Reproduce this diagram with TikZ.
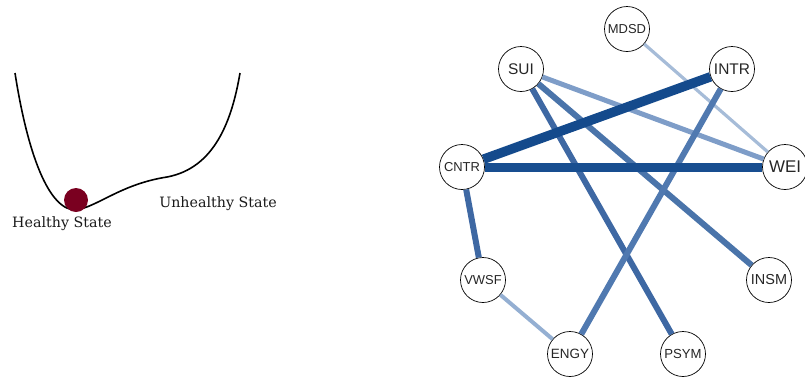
\documentclass[tikz,border=0pt]{standalone}
\usepackage{fontspec}
\newfontfamily\labelfont{Liberation Sans}
\newfontfamily\statefont{DejaVu Serif}
\definecolor{ball}{RGB}{122,0,32}
\definecolor{wA}{RGB}{20,74,140}
\definecolor{wB}{RGB}{24,78,144}
\definecolor{wC}{RGB}{62,104,163}
\definecolor{wD}{RGB}{74,116,170}
\definecolor{wE}{RGB}{80,121,176}
\definecolor{wF}{RGB}{126,157,200}
\definecolor{wG}{RGB}{148,175,210}
\definecolor{wH}{RGB}{166,188,216}
\begin{document}
\begin{tikzpicture}[x=1bp,y=-1bp,
  var/.style={circle,draw=black,line width=0.7bp,fill=white,minimum size=45bp,inner sep=0pt,text=black!85,font=\labelfont},
  edge/.style={line cap=butt},
  statelabel/.style={font=\statefont\fontsize{14.3}{17}\selectfont,text=black!90}]
\useasboundingbox (0,0) rectangle (805,376);

% ---- potential landscape ----
\draw[line width=1.6bp,line join=round]
  (15,73) .. controls (27,150) and (48,212) .. (77,210)
          .. controls (100,205) and (122,184) .. (167,177)
          .. controls (215,168) and (232,120) .. (240,73);
\fill[ball] (76,200) circle (12);
\node[statelabel] (healthy) at (62,224) {Healthy State};
\node[statelabel] (unhealthy) at (218,204) {Unhealthy State};

% ---- network ----
\node[var,font=\labelfont\fontsize{13}{14}\selectfont] (MDSD) at (627,29) {MDSD};
\node[var,font=\labelfont\fontsize{15.5}{16}\selectfont] (SUI) at (521,69) {SUI};
\node[var,font=\labelfont\fontsize{15.5}{16}\selectfont] (INTR) at (732,69) {INTR};
\node[var,font=\labelfont\fontsize{13}{14}\selectfont] (CNTR) at (462,167) {CNTR};
\node[var,font=\labelfont\fontsize{17}{18}\selectfont] (WEI) at (785,167) {WEI};
\node[var,font=\labelfont\fontsize{13}{14}\selectfont] (VWSF) at (483,280) {VWSF};
\node[var,font=\labelfont\fontsize{14.5}{15}\selectfont] (INSM) at (769,280) {INSM};
\node[var,font=\labelfont\fontsize{13.5}{14}\selectfont] (ENGY) at (570,354) {ENGY};
\node[var,font=\labelfont\fontsize{13.2}{14}\selectfont] (PSYM) at (683,354) {PSYM};

% edges: width and shade follow the strength of each link
\draw[edge,wH,line width=3.2bp] (MDSD) -- (WEI);
\draw[edge,wF,line width=5bp] (SUI) -- (WEI);
\draw[edge,wD,line width=6bp] (SUI) -- (INSM);
\draw[edge,wC,line width=6bp] (SUI) -- (PSYM);
\draw[edge,wE,line width=6bp] (INTR) -- (ENGY);
\draw[edge,wA,line width=9.5bp] (INTR) -- (CNTR);
\draw[edge,wB,line width=9bp] (CNTR) -- (WEI);
\draw[edge,wC,line width=6bp] (CNTR) -- (VWSF);
\draw[edge,wG,line width=4bp] (VWSF) -- (ENGY);
\end{tikzpicture}
\end{document}
